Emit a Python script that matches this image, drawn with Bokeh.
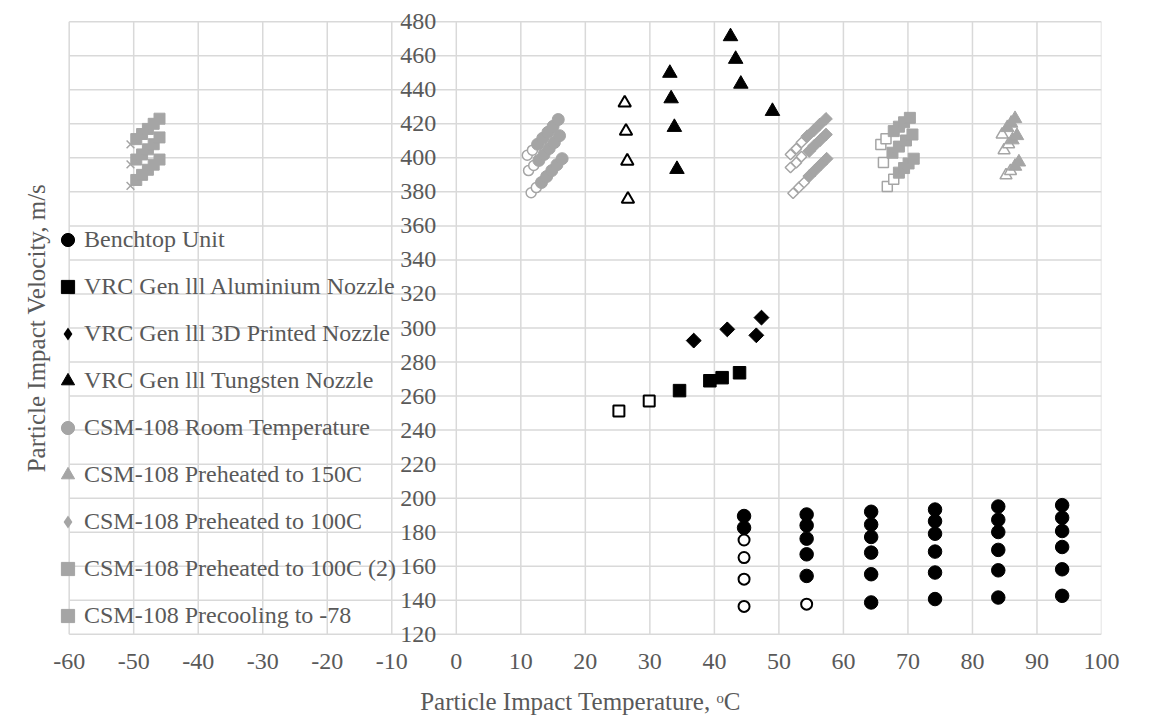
import math
from bokeh.plotting import figure
from bokeh.models import Range1d, LinearAxis, FixedTicker, Legend, LegendItem
from bokeh.embed import file_html
from bokeh.resources import INLINE

# ---------------- data ----------------
x_ticks = list(range(-60, 101, 10))
y_ticks = list(range(120, 481, 20))

# Benchtop Unit
bench_x = [44.6, 44.6,
           54.3, 54.3, 54.3, 54.3, 54.3,
           64.3, 64.3, 64.3, 64.3, 64.3, 64.3,
           74.2, 74.2, 74.2, 74.2, 74.2, 74.2,
           84.0, 84.0, 84.0, 84.0, 84.0, 84.0,
           93.9, 93.9, 93.9, 93.9, 93.9, 93.9]
bench_y = [189.5, 182.6,
           190.4, 184.0, 176.2, 167.0, 154.3,
           192.0, 184.5, 177.2, 168.0, 155.3, 138.7,
           193.3, 186.5, 179.1, 168.6, 156.3, 140.7,
           195.1, 187.3, 180.1, 169.6, 157.6, 141.6,
           195.9, 188.5, 180.7, 171.3, 158.2, 142.6]
bench_open_x = [44.6, 44.6, 44.6, 44.6, 54.3]
bench_open_y = [175.4, 165.1, 152.4, 136.4, 137.7]

# VRC Gen lll Aluminium Nozzle
alu_x = [34.6, 39.3, 41.2, 43.9]
alu_y = [263.2, 269.0, 270.8, 273.7]
alu_open_x = [25.2, 29.9]
alu_open_y = [251.2, 257.1]

# VRC Gen lll 3D Printed Nozzle
p3d_x = [36.8, 42.0, 46.5, 47.3]
p3d_y = [292.6, 299.2, 295.7, 306.1]

# VRC Gen lll Tungsten Nozzle
tung_x = [33.1, 33.3, 33.8, 34.2, 42.5, 43.3, 44.1, 49.0]
tung_y = [449.8, 434.8, 418.0, 393.3, 471.3, 458.0, 443.4, 427.4]
tung_open_x = [26.1, 26.3, 26.5, 26.6]
tung_open_y = [432.3, 415.7, 398.1, 375.7]

# CSM-108 Room Temperature
rt_x = [12.6, 13.4, 14.2, 15.0, 15.8,
        12.8, 13.6, 14.4, 15.2, 16.0,
        13.2, 14.0, 14.8, 15.6, 16.4]
rt_y = [408.0, 411.5, 415.0, 418.5, 422.5,
        398.5, 402.0, 405.5, 409.0, 413.0,
        385.5, 389.0, 392.5, 396.0, 399.5]
rt_open_x = [11.0, 11.8, 11.2, 12.0, 11.6, 12.4]
rt_open_y = [401.5, 404.5, 392.5, 395.5, 379.5, 382.5]

# CSM-108 Preheated to 150C
p150_x = [85.4, 86.0, 86.6, 86.2, 86.9, 86.6, 87.2]
p150_y = [417.7, 420.3, 423.0, 410.5, 413.0, 395.0, 397.5]
p150_open_x = [84.6, 84.9, 85.6, 85.2, 85.9]
p150_open_y = [413.7, 404.5, 408.0, 389.7, 392.3]

# CSM-108 Preheated to 100C
p100_x = [54.4, 55.4, 56.3, 57.3,
          54.7, 55.5, 56.4, 57.3,
          54.7, 55.6, 56.5, 57.4]
p100_y = [412.7, 416.1, 419.5, 422.9,
          404.0, 407.2, 410.4, 413.7,
          389.3, 392.7, 396.1, 399.5]
p100_open_x = [51.8, 52.7, 53.5, 51.8, 52.7, 53.5, 52.2, 53.1, 53.9]
p100_open_y = [402.0, 405.4, 409.0, 394.3, 397.2, 400.7, 379.2, 382.6, 385.5]

# CSM-108 Preheated to 100C (2)
p1002_x = [67.8, 68.6, 69.4, 70.3,
           67.6, 68.6, 69.7, 70.7,
           68.6, 69.4, 70.1, 70.9]
p1002_y = [415.7, 418.3, 420.9, 423.5,
           403.0, 406.6, 410.2, 413.7,
           391.3, 394.0, 396.7, 399.5]
p1002_open_x = [65.8, 66.6, 66.2, 66.8, 67.8]
p1002_open_y = [407.9, 411.2, 397.2, 383.1, 387.4]

# CSM-108 Precooling to -78
pc_x = [-49.6, -48.7, -47.8, -46.9, -46.0,
        -49.6, -48.7, -47.8, -46.9, -46.0,
        -49.6, -48.7, -47.8, -46.9, -46.0]
pc_y = [411.0, 414.0, 417.0, 420.0, 423.0,
        399.0, 402.0, 405.0, 408.0, 412.0,
        387.0, 390.0, 393.0, 396.0, 399.0]
pc_cross_x = [-50.5, -50.5, -50.5]
pc_cross_y = [407.9, 396.2, 383.5]

labels = ["Benchtop Unit",
          "VRC Gen lll Aluminium Nozzle",
          "VRC Gen lll 3D Printed Nozzle",
          "VRC Gen lll Tungsten Nozzle",
          "CSM-108 Room Temperature",
          "CSM-108 Preheated to 150C",
          "CSM-108 Preheated to 100C",
          "CSM-108 Preheated to 100C (2)",
          "CSM-108 Precooling to -78"]

# ---------------- styling ----------------
BLACK = "#000000"
GRAY = "#A5A5A5"
TXT = "#595959"
GRID = "#D9D9D9"
FONT = "Liberation Serif"
FS = "24px"
ROT = math.pi / 4

x_lo, x_hi = x_ticks[0], x_ticks[-1]
y_lo, y_hi = y_ticks[0], y_ticks[-1]

# a little room outside the gridded area so end labels / legend are not clipped
p = figure(width=1150, height=717,
           x_range=Range1d(x_lo - 1.5, x_hi), y_range=Range1d(y_lo - 6, y_hi + 6),
           output_backend="svg", toolbar_location=None,
           min_border_left=59, min_border_right=49,
           min_border_top=11, min_border_bottom=70)
p.outline_line_color = None
p.background_fill_color = "white"
p.border_fill_color = "white"
p.xgrid.visible = False
p.ygrid.visible = False

# gridlines (bounded to the tick extents)
p.segment(x0=x_ticks, y0=[y_lo] * len(x_ticks), x1=x_ticks, y1=[y_hi] * len(x_ticks),
          line_color=GRID, line_width=1.5)
p.segment(x0=[x_lo] * len(y_ticks), y0=y_ticks, x1=[x_hi] * len(y_ticks), y1=y_ticks,
          line_color=GRID, line_width=1.5)

# x axis
xa = p.xaxis[0]
xa.ticker = FixedTicker(ticks=x_ticks)
xa.major_label_overrides = {t: str(t) for t in x_ticks}
xa.axis_label = "Particle Impact Temperature, \u1d52C"
xa.axis_line_color = None
xa.major_tick_line_color = None
xa.minor_tick_line_color = None
xa.major_tick_out = 0
xa.major_label_standoff = 9
xa.axis_label_standoff = 16
xa.major_label_text_font = FONT
xa.major_label_text_font_size = FS
xa.major_label_text_color = TXT
xa.axis_label_text_font = FONT
xa.axis_label_text_font_size = "25px"
xa.axis_label_text_color = TXT
xa.axis_label_text_font_style = "normal"

# y axis crossing at x = 0
ya = p.yaxis[0]
ya.fixed_location = 0
ya.ticker = FixedTicker(ticks=y_ticks)
ya.axis_line_color = None
ya.major_tick_line_color = None
ya.minor_tick_line_color = None
ya.major_tick_out = 0
ya.major_label_standoff = 20
ya.major_label_text_font = FONT
ya.major_label_text_font_size = FS
ya.major_label_text_color = TXT

# y axis title on the far left
yt = LinearAxis(ticker=FixedTicker(ticks=[]),
                axis_label="Particle Impact Velocity, m/s",
                axis_line_color=None, major_tick_line_color=None,
                minor_tick_line_color=None, major_tick_out=0,
                major_label_standoff=0, axis_label_standoff=10,
                axis_label_text_font=FONT, axis_label_text_font_size="25px",
                axis_label_text_color=TXT, axis_label_text_font_style="normal")
p.add_layout(yt, "left")

# ---------------- glyphs ----------------
r_bench = p.scatter(bench_x, bench_y, marker="circle", size=13.5,
                    fill_color=BLACK, line_color=BLACK)
p.scatter(bench_open_x, bench_open_y, marker="circle", size=11,
          fill_color="white", line_color=BLACK, line_width=2)

r_alu = p.scatter(alu_x, alu_y, marker="square", size=12.5,
                  fill_color=BLACK, line_color=BLACK)
p.scatter(alu_open_x, alu_open_y, marker="square", size=11,
          fill_color="white", line_color=BLACK, line_width=2)

# diamond shape (for the legend) lies fully under the rotated square
r_p3d = p.scatter(p3d_x, p3d_y, marker="diamond", size=14.5,
                  fill_color=BLACK, line_color=None)
p.scatter(p3d_x, p3d_y, marker="square", size=10.5, angle=ROT,
          fill_color=BLACK, line_color=BLACK)

r_tung = p.scatter(tung_x, tung_y, marker="triangle", size=14.5,
                   fill_color=BLACK, line_color=BLACK)
p.scatter(tung_open_x, tung_open_y, marker="triangle", size=12.5,
          fill_color="white", line_color=BLACK, line_width=2)

p.scatter(rt_open_x, rt_open_y, marker="circle", size=10,
          fill_color="white", line_color=GRAY, line_width=1.5)
r_rt = p.scatter(rt_x, rt_y, marker="circle", size=12,
                 fill_color=GRAY, line_color=GRAY)

p.scatter(p150_open_x, p150_open_y, marker="triangle", size=12,
          fill_color="white", line_color=GRAY, line_width=1.5)
r_150 = p.scatter(p150_x, p150_y, marker="triangle", size=13.5,
                  fill_color=GRAY, line_color=GRAY)

p.scatter(p100_open_x, p100_open_y, marker="square", size=7.5, angle=ROT,
          fill_color="white", line_color=GRAY, line_width=1.5)
r_100 = p.scatter(p100_x, p100_y, marker="diamond", size=12.5,
                  fill_color=GRAY, line_color=None)
p.scatter(p100_x, p100_y, marker="square", size=9, angle=ROT,
          fill_color=GRAY, line_color=GRAY)

p.scatter(p1002_open_x, p1002_open_y, marker="square", size=10,
          fill_color="white", line_color=GRAY, line_width=1.5)
r_1002 = p.scatter(p1002_x, p1002_y, marker="square", size=11,
                   fill_color=GRAY, line_color=GRAY)

p.scatter(pc_cross_x, pc_cross_y, marker="x", size=11,
          line_color=GRAY, line_width=1.5)
r_pc = p.scatter(pc_x, pc_y, marker="square", size=11,
                 fill_color=GRAY, line_color=GRAY)

renderers = [r_bench, r_alu, r_p3d, r_tung, r_rt, r_150, r_100, r_1002, r_pc]
legend = Legend(items=[LegendItem(label=l, renderers=[r]) for l, r in zip(labels, renderers)],
                location=(-8, 12), orientation="vertical",
                glyph_width=33, glyph_height=33, spacing=14,
                label_standoff=-15, padding=0, margin=0,
                border_line_color=None, background_fill_alpha=0,
                label_text_font=FONT, label_text_font_size=FS,
                label_text_color=TXT)
p.add_layout(legend)

open("out.html", "w").write(file_html(p, INLINE))
